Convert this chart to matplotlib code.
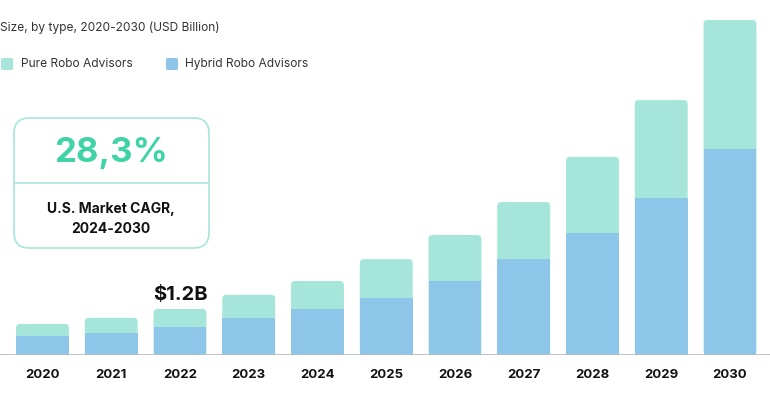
import matplotlib.pyplot as plt
from matplotlib.patches import FancyBboxPatch

plt.rcParams['font.family'] = ['Inter', 'DejaVu Sans']

years = ["2020", "2021", "2022", "2023", "2024", "2025", "2026", "2027", "2028", "2029", "2030"]
hybrid = [0.50, 0.58, 0.73, 0.97, 1.20, 1.49, 1.93, 2.50, 3.18, 4.10, 5.37]
pure = [0.31, 0.39, 0.47, 0.60, 0.73, 1.01, 1.20, 1.49, 1.99, 2.55, 3.37]

PURE_COLOR = "#a6e6da"
HYBRID_COLOR = "#8ec6e9"

fig = plt.figure(figsize=(7.7, 3.95), dpi=100)
ax = fig.add_axes([0, 40 / 395, 1, 355 / 395])

x = list(range(len(years)))
total = [h + p for h, p in zip(hybrid, pure)]

# pure part: rounded top, drawn full height then covered by hybrid
tops = ax.bar(x, total, width=0.77, color=PURE_COLOR, zorder=2)
for r in tops:
    bx, by, bw, bh = r.get_x(), r.get_y(), r.get_width(), r.get_height()
    r.remove()
    pad = 0.06
    ax.add_patch(FancyBboxPatch((bx + pad, by + pad * 1.78), bw - 2 * pad, bh - 2 * pad * 1.78,
                                boxstyle=f"round,pad={pad}", mutation_aspect=1.78,
                                facecolor=PURE_COLOR, edgecolor="none", zorder=2))
ax.bar(x, hybrid, width=0.77, color=HYBRID_COLOR, zorder=3)

ax.set_xlim(-0.618, 10.582)
ax.set_ylim(0, 355 / 38.33)
ax.axis("off")
ax.axhline(0, color="#b3bcc5", linewidth=2, zorder=4)

for i, y in enumerate(years):
    ax.text(i, -0.52, y, ha="center", va="center", fontsize=9.5, fontweight="bold", color="#111111")

ax.text(2, total[2] + 0.12, "$1.2B", ha="center", va="bottom", fontsize=14.5, fontweight="bold", color="#111111")

# header and legend
fig.text(0.0, 1 - 28 / 395, "Size, by type, 2020-2030 (USD Billion)", ha="left", va="center",
         fontsize=8.6, color="#333333")
fig.patches.append(FancyBboxPatch((1 / 770, 1 - 70 / 395), 12 / 770, 12 / 395,
                                  boxstyle="round,pad=0,rounding_size=0.003", transform=fig.transFigure,
                                  facecolor=PURE_COLOR, edgecolor="none"))
fig.text(21 / 770, 1 - 64 / 395, "Pure Robo Advisors", ha="left", va="center", fontsize=8.6, color="#333333")
fig.patches.append(FancyBboxPatch((166 / 770, 1 - 70 / 395), 12 / 770, 12 / 395,
                                  boxstyle="round,pad=0,rounding_size=0.003", transform=fig.transFigure,
                                  facecolor=HYBRID_COLOR, edgecolor="none"))
fig.text(185 / 770, 1 - 64 / 395, "Hybrid Robo Advisors", ha="left", va="center", fontsize=8.6, color="#333333")

# CAGR box
box = FancyBboxPatch((14 / 770, 1 - 248 / 395), 195 / 770, 130 / 395,
                     boxstyle="round,pad=0,rounding_size=0.02", transform=fig.transFigure,
                     facecolor="white", edgecolor="#a6e6da", linewidth=1.2, mutation_aspect=770 / 395)
fig.patches.append(box)
fig.add_artist(plt.Line2D([14 / 770, 209 / 770], [1 - 183 / 395, 1 - 183 / 395],
                          color="#a6e6da", linewidth=1.2, transform=fig.transFigure))
fig.text(111 / 770, 1 - 153 / 395, "28,3%", ha="center", va="center", fontsize=25,
         fontweight="bold", color="#3fd3a6")
fig.text(111 / 770, 1 - 209 / 395, "U.S. Market CAGR,", ha="center", va="center", fontsize=10,
         fontweight="bold", color="#111111")
fig.text(111 / 770, 1 - 229 / 395, "2024-2030", ha="center", va="center", fontsize=10,
         fontweight="bold", color="#111111")

fig.savefig("out.png", dpi=100)
